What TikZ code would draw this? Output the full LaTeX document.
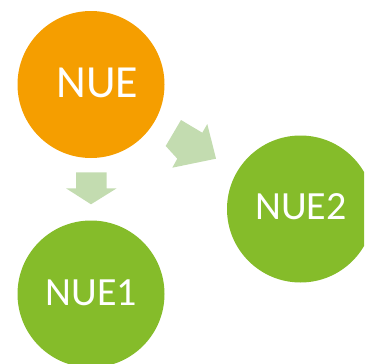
\documentclass[tikz,border=0pt]{standalone}
\usepackage{fontspec}
\setmainfont{Carlito}
\definecolor{nueorange}{HTML}{F59E00}
\definecolor{nuegreen}{HTML}{85BC2A}
\definecolor{arrowgreen}{HTML}{C3DCB0}
\begin{document}
\begin{tikzpicture}[x=1pt,y=-1pt,
  bubble/.style={circle,minimum size=147pt,inner sep=0pt},
  label/.style={text=white,inner sep=0pt,anchor=center},
  blockarrow/.style={fill=arrowgreen,draw=none}]
\useasboundingbox (0,0) rectangle (364,364);
\clip (0,0) rectangle (364,364);
\node[bubble,fill=nueorange] (nue) at (91,84.5) {};
\node[bubble,fill=nuegreen] (nue1) at (91,294) {};
\node[bubble,fill=nuegreen] (nue2) at (300.5,209) {};
\node[label,font=\fontsize{46}{50}\selectfont] (tnue) at (97.5,83) {NUE};
\node[label,font=\fontsize{40}{44}\selectfont] (tnue1) at (91.5,293) {NUE1};
\node[label,font=\fontsize{40}{44}\selectfont] (tnue2) at (301,207) {NUE2};
\fill[blockarrow] (76,172.3) -- (106.7,172.3) -- (106.7,188.3) -- (116.7,188.3)
  -- (91,204.3) -- (66,188.3) -- (76,188.3) -- cycle;
\fill[blockarrow] (181,120) -- (202.3,132.7) -- (207.3,124) -- (216,158.7)
  -- (172.3,167.7) -- (177.3,158.7) -- (165.7,146) -- cycle;
\end{tikzpicture}
\end{document}
